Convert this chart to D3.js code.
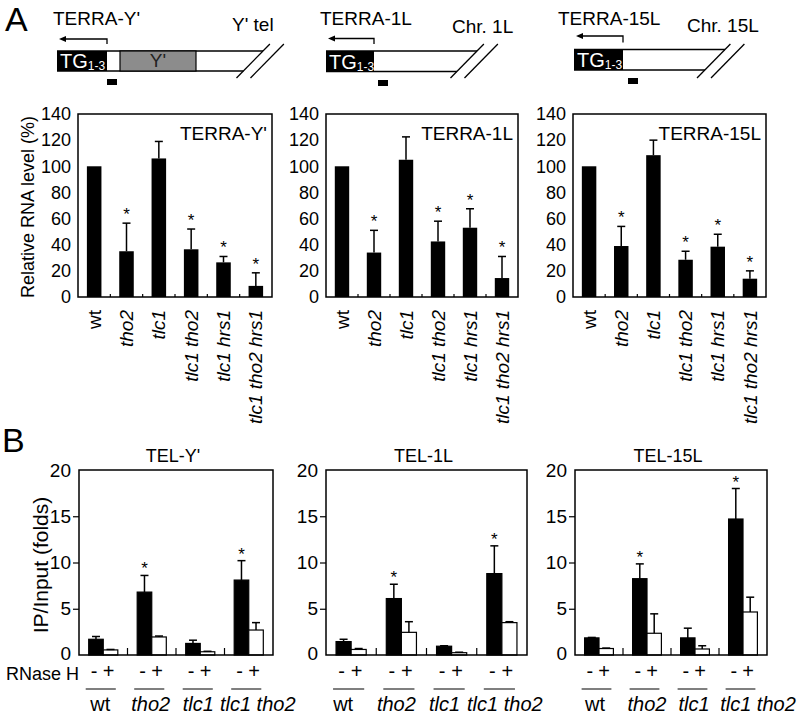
<!DOCTYPE html>
<html><head><meta charset="utf-8">
<script src="https://cdn.jsdelivr.net/npm/d3@7"></script>
<style>body{margin:0;background:#fff} svg{display:block} text{font-family:"Liberation Sans",Arial,sans-serif;fill:#000}</style>
</head><body><svg id="c" width="797" height="717"></svg>
<script>
// ---------- DATA ----------
const categoriesA = ["wt","tho2","tlc1","tlc1 tho2","tlc1 hrs1","tlc1 tho2 hrs1"];
const yTicksA = [0,20,40,60,80,100,120,140];
const terraYValues   = [100, 35, 106, 36.5, 26.5, 8.5];
const terraYErrTop   = [null, 56.5, 119, 52, 31, 18.5];
const terra1LValues  = [100, 34, 105, 42.5, 53, 14.5];
const terra1LErrTop  = [null, 51, 122.5, 58, 67.5, 31];
const terra15LValues = [100, 39, 108.5, 28.5, 38.5, 14];
const terra15LErrTop = [null, 54, 120, 35, 48, 20];
const starsA = [false, true, false, true, true, true];

const groupsB = ["wt","tho2","tlc1","tlc1 tho2"];
const rnaseH = ["-","+"];
const yTicksB = [0,5,10,15,20];
const telYMinus     = [1.7, 6.8, 1.25, 8.1];
const telYMinusErr  = [2.0, 8.6, 1.6, 10.2];
const telYPlus      = [0.55, 1.95, 0.35, 2.7];
const telYPlusErr   = [0.6, 2.05, 0.4, 3.5];
const tel1LMinus    = [1.45, 6.1, 0.95, 8.8];
const tel1LMinusErr = [1.7, 7.65, 1.0, 11.8];
const tel1LPlus     = [0.6, 2.45, 0.25, 3.5];
const tel1LPlusErr  = [0.7, 3.6, 0.3, 3.6];
const tel15LMinus    = [1.85, 8.25, 1.85, 14.7];
const tel15LMinusErr = [1.9, 9.85, 2.9, 18.0];
const tel15LPlus     = [0.7, 2.35, 0.65, 4.65];
const tel15LPlusErr  = [0.75, 4.45, 1.0, 6.25];
const starsB = [false, true, false, true];

// ---------- LAYOUT ----------
const svg = d3.select("#c");
const F = '"Liberation Sans",Arial,sans-serif';
function italicFor(name){ return name === "wt" ? "normal" : "italic"; }

svg.append("text").attr("x",5).attr("y",31).attr("font-size",34).text("A");
svg.append("text").attr("x",2).attr("y",452).attr("font-size",34).text("B");

// ---------- Diagrams ----------
const diagrams = [
  {label:"TERRA-Y'", lx:53, chr:"Y' tel", cx:232, cy:31, x0:57, tgEnd:107, y0:51, y1:71, slashX:263, gray:[120,196], arrowY:39, sq:[107,79]},
  {label:"TERRA-1L", lx:320, chr:"Chr. 1L", cx:452, cy:33, x0:326, tgEnd:374, y0:51, y1:71.5, slashX:477, gray:null, arrowY:38.5, sq:[378,80]},
  {label:"TERRA-15L", lx:558, chr:"Chr. 15L", cx:687, cy:32, x0:574, tgEnd:623, y0:49.5, y1:70, slashX:725, gray:null, arrowY:36, sq:[628,78]}
];
diagrams.forEach(d=>{
  const g = svg.append("g");
  g.append("text").attr("x",d.lx).attr("y",25).attr("font-size",19).text(d.label);
  g.append("text").attr("x",d.cx).attr("y",d.cy).attr("font-size",19).text(d.chr);
  g.append("path").attr("d",`M${d.tgEnd},${d.y0-7}V${d.arrowY}H${d.x0+8}`).attr("fill","none").attr("stroke","#000").attr("stroke-width",1.3);
  g.append("path").attr("d",`M${d.x0+2},${d.arrowY}L${d.x0+9},${d.arrowY-3}L${d.x0+9},${d.arrowY+3}Z`).attr("fill","#000");
  const h = d.y1 - d.y0;
  const slope = 33.4/34;
  const topEnd = d.slashX, botEnd = d.slashX - slope*h;
  g.append("line").attr("x1",d.x0).attr("x2",topEnd).attr("y1",d.y0).attr("y2",d.y0).attr("stroke","#000").attr("stroke-width",1.5);
  g.append("line").attr("x1",d.x0).attr("x2",botEnd).attr("y1",d.y1).attr("y2",d.y1).attr("stroke","#000").attr("stroke-width",1.5);
  [0,14].forEach(off=>{
    g.append("line").attr("x1",d.slashX+off+slope*(d.y0-44)).attr("y1",44)
      .attr("x2",d.slashX+off-slope*(78-d.y0)).attr("y2",78).attr("stroke","#000").attr("stroke-width",1.3);
  });
  if(d.gray){
    g.append("rect").attr("x",d.gray[0]).attr("y",d.y0).attr("width",d.gray[1]-d.gray[0]).attr("height",h).attr("fill","#8c8c8c").attr("stroke","#000").attr("stroke-width",1.2);
    g.append("text").attr("x",(d.gray[0]+d.gray[1])/2).attr("y",d.y1-4).attr("text-anchor","middle").attr("font-size",19).style("fill","#222").text("Y'");
  }
  g.append("rect").attr("x",d.x0).attr("y",d.y0).attr("width",d.tgEnd-d.x0).attr("height",h).attr("fill","#000");
  const t = g.append("text").attr("x",d.x0+3).attr("y",d.y1-3).attr("font-size",20).style("fill","#fff");
  t.append("tspan").text("TG");
  t.append("tspan").attr("font-size",12).attr("dy",2).text("1-3");
  g.append("rect").attr("x",d.sq[0]).attr("y",d.sq[1]).attr("width",10).attr("height",6).attr("fill","#000");
});

// ---------- Panel A ----------
const framesA = [{x0:78,x1:272},{x0:326,x1:518},{x0:573,x1:766}];
const yA = d3.scaleLinear().domain([0,140]).range([297,114]);
const seriesA = [
  {title:"TERRA-Y'", v:terraYValues, e:terraYErrTop},
  {title:"TERRA-1L", v:terra1LValues, e:terra1LErrTop},
  {title:"TERRA-15L", v:terra15LValues, e:terra15LErrTop}
];
seriesA.forEach((s,i)=>{
  const fr = framesA[i];
  const g = svg.append("g");
  const x = d3.scaleBand().domain(categoriesA).range([fr.x0,fr.x1]).paddingInner(0.55).paddingOuter(0.275);
  const step = x.step();
  g.selectAll("rect.bar").data(categoriesA).join("rect")
    .attr("x",c=>x(c)).attr("width",x.bandwidth())
    .attr("y",(c,j)=>yA(s.v[j])).attr("height",(c,j)=>yA(0)-yA(s.v[j])).attr("fill","#000");
  categoriesA.forEach((c,j)=>{
    if(s.e[j]==null) return;
    const cx = x(c)+x.bandwidth()/2;
    g.append("line").attr("x1",cx).attr("x2",cx).attr("y1",yA(s.v[j])).attr("y2",yA(s.e[j])).attr("stroke","#000").attr("stroke-width",1.5);
    g.append("line").attr("x1",cx-4).attr("x2",cx+4).attr("y1",yA(s.e[j])).attr("y2",yA(s.e[j])).attr("stroke","#000").attr("stroke-width",1.5);
    if(starsA[j]) g.append("text").attr("x",cx).attr("y",yA(s.e[j])-3).attr("text-anchor","middle").attr("font-size",17).text("*");
  });
  g.append("rect").attr("x",fr.x0).attr("y",114).attr("width",fr.x1-fr.x0).attr("height",183).attr("fill","none").attr("stroke","#000").attr("stroke-width",1.5);
  d3.range(1,categoriesA.length).forEach(k=>{
    const tx = fr.x0 + k*step;
    g.append("line").attr("x1",tx).attr("x2",tx).attr("y1",297).attr("y2",294).attr("stroke","#000").attr("stroke-width",1.2);
  });
  const ax = g.append("g").attr("transform",`translate(${fr.x0},0)`)
    .call(d3.axisLeft(yA).tickValues(yTicksA).tickSize(0).tickPadding(7));
  ax.select(".domain").remove();
  ax.selectAll("text").attr("font-size",18).attr("font-family",F).style("fill","#000");
  categoriesA.forEach(c=>{
    const cx = x(c)+x.bandwidth()/2;
    g.append("text").attr("transform",`translate(${cx},310) rotate(-90)`)
      .attr("text-anchor","end").attr("dy","0.35em").attr("font-size",19)
      .attr("font-style",italicFor(c)).text(c);
  });
  g.append("text").attr("x",fr.x1-5).attr("y",140).attr("text-anchor","end").attr("font-size",19).text(s.title);
});
svg.append("text").attr("transform","translate(34,207) rotate(-90)").attr("text-anchor","middle").attr("font-size",18).text("Relative RNA level (%)");

// ---------- Panel B ----------
const framesB = [{x0:79,x1:273},{x0:326,x1:527},{x0:575,x1:767}];
const labelShiftB = [[-3,-1,-2,9],[-8,-5,-7,3],[-4,0,-1,15]];
const yB = d3.scaleLinear().domain([0,20]).range([655,470]);
const seriesB = [
  {title:"TEL-Y'", m:telYMinus, me:telYMinusErr, p:telYPlus, pe:telYPlusErr},
  {title:"TEL-1L", m:tel1LMinus, me:tel1LMinusErr, p:tel1LPlus, pe:tel1LPlusErr},
  {title:"TEL-15L", m:tel15LMinus, me:tel15LMinusErr, p:tel15LPlus, pe:tel15LPlusErr}
];
seriesB.forEach((s,i)=>{
  const fr = framesB[i];
  const g = svg.append("g");
  const x = d3.scaleBand().domain(groupsB).range([fr.x0,fr.x1]).paddingInner(0.4).paddingOuter(0.2);
  const xs = d3.scaleBand().domain(rnaseH).range([0,x.bandwidth()]);
  const step = x.step();
  groupsB.forEach((grp,j)=>{
    const vals = [s.m[j], s.p[j]], errs = [s.me[j], s.pe[j]];
    rnaseH.forEach((r,k)=>{
      const bx = x(grp)+xs(r);
      g.append("rect").attr("x",bx).attr("width",xs.bandwidth())
        .attr("y",yB(vals[k])).attr("height",yB(0)-yB(vals[k]))
        .attr("fill",k===0?"#000":"#fff").attr("stroke","#000").attr("stroke-width",1.2);
      const cx = bx + xs.bandwidth()/2;
      if(errs[k] > vals[k]){
        g.append("line").attr("x1",cx).attr("x2",cx).attr("y1",yB(vals[k])).attr("y2",yB(errs[k])).attr("stroke","#000").attr("stroke-width",1.5);
        g.append("line").attr("x1",cx-4).attr("x2",cx+4).attr("y1",yB(errs[k])).attr("y2",yB(errs[k])).attr("stroke","#000").attr("stroke-width",1.5);
      }
      if(k===0 && starsB[j]) g.append("text").attr("x",cx).attr("y",yB(errs[k])-1).attr("text-anchor","middle").attr("font-size",17).text("*");
      g.append("text").attr("x",cx-2).attr("y",678).attr("text-anchor","middle").attr("font-size",20).text(r);
    });
    g.append("line").attr("x1",x(grp)-3).attr("x2",x(grp)+x.bandwidth()-2).attr("y1",689).attr("y2",689).attr("stroke","#555").attr("stroke-width",1.5);
    g.append("text").attr("x",x(grp)+x.bandwidth()/2+labelShiftB[i][j]).attr("y",711).attr("text-anchor","middle")
      .attr("font-size",20).attr("font-style",italicFor(grp)).text(grp);
  });
  g.append("rect").attr("x",fr.x0).attr("y",470).attr("width",fr.x1-fr.x0).attr("height",185).attr("fill","none").attr("stroke","#000").attr("stroke-width",1.5);
  d3.range(1,groupsB.length).forEach(k=>{
    const tx = fr.x0 + k*step;
    g.append("line").attr("x1",tx).attr("x2",tx).attr("y1",655).attr("y2",648).attr("stroke","#000").attr("stroke-width",1.2);
  });
  const ax = g.append("g").attr("transform",`translate(${fr.x0},0)`)
    .call(d3.axisLeft(yB).tickValues(yTicksB).tickSize(6).tickPadding(2));
  ax.select(".domain").remove();
  ax.selectAll(".tick line").attr("stroke","#000").attr("stroke-width",1.2).attr("opacity",d=>(d===0||d===20)?0:1);
  ax.selectAll("text").attr("font-size",19).attr("font-family",F).style("fill","#000").attr("dy",d=>d===0?"0.22em":"0.32em");
  g.append("text").attr("x",(fr.x0+fr.x1)/2-3).attr("y",462).attr("text-anchor","middle").attr("font-size",18).text(s.title);
});
svg.append("text").attr("x",79).attr("y",680).attr("text-anchor","end").attr("font-size",18).text("RNase H");
svg.append("text").attr("transform","translate(48,565) rotate(-90)").attr("text-anchor","middle").attr("font-size",21).text("IP/Input (folds)");
</script>
</body></html>
